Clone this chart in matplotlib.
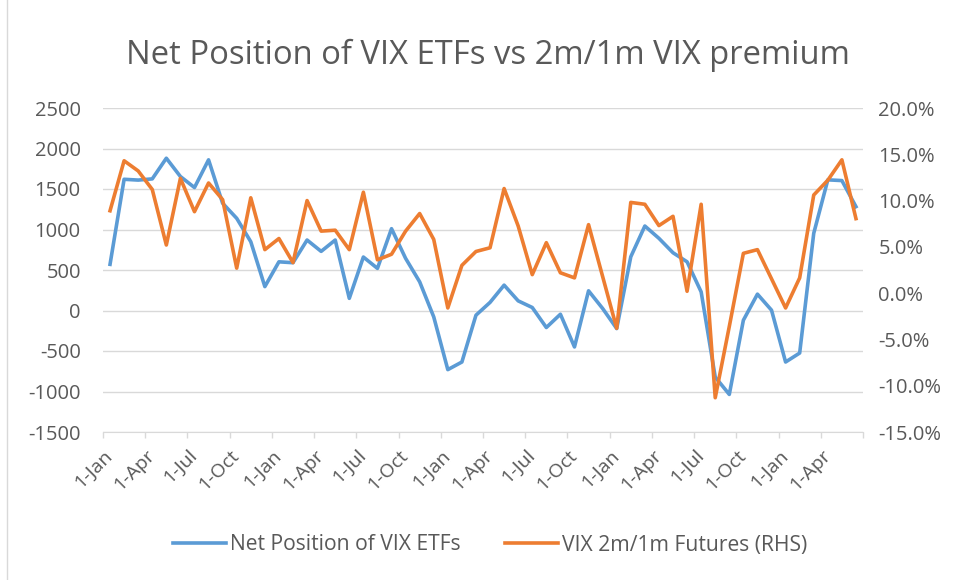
import numpy as np
import matplotlib.pyplot as plt
from matplotlib.ticker import FuncFormatter, MultipleLocator
from matplotlib.lines import Line2D

plt.rcParams['font.family'] = ['Open Sans', 'DejaVu Sans']
plt.rcParams['axes.unicode_minus'] = False

# monthly observations, Jan (year 1) .. Jun (year 5)
net_position = [570, 1620, 1610, 1625, 1880, 1654, 1518, 1860, 1324, 1138,
                849, 295, 601, 590, 870, 730, 870, 150, 660, 520,
                1010, 644, 354, -79, -730, -636, -58, 100, 313, 119,
                37, -210, -46, -450, 243, 25, -223, 663, 1043, 891,
                713, 601, 230, -822, -1036, -120, 202, 4, -636, -525,
                953, 1613, 1604, 1282]
vix_premium = [8.9, 14.3, 13.2, 11.2, 5.2, 12.4, 8.8, 11.9, 10.1, 2.7,
               10.3, 4.7, 5.9, 3.3, 10.0, 6.7, 6.8, 4.7, 10.9, 3.6,
               4.2, 6.7, 8.6, 5.8, -1.6, 3.0, 4.5, 4.9, 11.3, 7.25,
               2.0, 5.45, 2.2, 1.65, 7.4, 1.8, -3.8, 9.8, 9.6, 7.3,
               8.3, 0.2, 9.6, -11.3, -3.6, 4.3, 4.7, 1.55, -1.6, 1.65,
               10.6, 12.2, 14.4, 8.05]
tick_labels = ['1-Jan', '1-Apr', '1-Jul', '1-Oct'] * 4 + ['1-Jan', '1-Apr']

blue = '#5B9BD5'
orange = '#ED7D31'
txt = '#595959'
grid = '#D9D9D9'

x = np.arange(len(net_position))
vix = np.array(vix_premium) / 100

fig = plt.figure(figsize=(9.56, 5.8), dpi=100)
ax = fig.add_axes([103/956, 1 - 432/580, 760/956, 324/580])
ax2 = ax.twinx()

ax.plot(x, net_position, color=blue, lw=2.6, solid_joinstyle='round', zorder=3)
ax2.plot(x, vix, color=orange, lw=2.6, solid_joinstyle='round', zorder=3)

ax.set_xlim(-0.5, len(x) - 0.5)
ax.set_ylim(-1500, 2500)
ax.yaxis.set_major_locator(MultipleLocator(500))
ax.grid(axis='y', color=grid, lw=1)
ax.set_axisbelow(True)
ax2.set_ylim(-0.15, 0.20)
ax2.yaxis.set_major_locator(MultipleLocator(0.05))
ax2.yaxis.set_major_formatter(FuncFormatter(lambda v, p: f'{v*100:.1f}%'))

for a in (ax, ax2):
    for s in ['top', 'left', 'right']:
        a.spines[s].set_visible(False)
ax.spines['bottom'].set_color(grid)
ax2.spines['bottom'].set_visible(False)

ax.tick_params(axis='y', length=0, pad=16, labelsize=14.5, labelcolor=txt)
ax2.tick_params(axis='y', length=0, pad=11, labelsize=14.5, labelcolor=txt)

ax.set_xticks(np.arange(0, len(x), 3))
ax.set_xticklabels(tick_labels, rotation=45, ha='right', va='center',
                   rotation_mode='anchor')
ax.set_xticks(np.arange(-0.5, len(x), 3), minor=True)
ax.tick_params(axis='x', which='major', length=0, pad=15, labelsize=14, labelcolor=txt)
ax.tick_params(axis='x', which='minor', length=4, color=grid, width=1)

fig.text(0.51, 1 - 64/580, 'Net Position of VIX ETFs vs 2m/1m VIX premium',
         ha='center', va='baseline', fontsize=23.6, color=txt)

handles = [Line2D([], [], color=blue, lw=2.6), Line2D([], [], color=orange, lw=2.6)]
fig.legend(handles, ['Net Position of VIX ETFs', 'VIX 2m/1m Futures (RHS)'],
           loc='center', bbox_to_anchor=(490/956, 1 - 545/580), ncol=2, frameon=False,
           fontsize=15.2, labelcolor=txt, handlelength=2.5, handletextpad=0.2,
           columnspacing=2.1)

fig.add_artist(Line2D([7/956, 7/956], [0, 1], color=grid, lw=1))

fig.savefig('out.png', dpi=100)
